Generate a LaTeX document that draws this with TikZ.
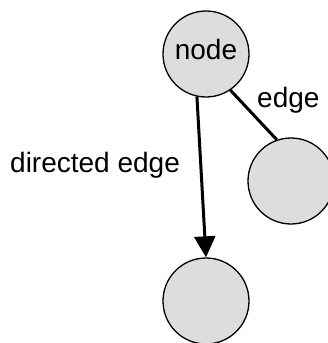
\documentclass[tikz,border=0pt]{standalone}
\usepackage{fontspec}
\setmainfont{Liberation Sans}
\usetikzlibrary{arrows.meta}
\definecolor{vfill}{RGB}{221,221,221}
\tikzset{
  vertex/.style={circle, draw=black, line width=1.3pt, fill=vfill,
    minimum size=86pt, inner sep=0pt},
  lbl/.style={font=\fontsize{28}{32}\selectfont, inner sep=0pt},
  plain edge/.style={line width=3pt},
  arc edge/.style={line width=3pt, -{Triangle[length=21pt,width=21pt]}}
}
\begin{document}
\begin{tikzpicture}[x=1pt,y=-1pt]
  \useasboundingbox (0,0) rectangle (327,343);
  % the three vertices
  \node[vertex, label={[lbl, name=nodetxt, yshift=5pt]center:node}] (top) at (206,54) {};
  \node[vertex] (right) at (291,181) {};
  \node[vertex] (bottom) at (206,301) {};
  % connectors
  \draw[plain edge] (top.-56) -- (right.109);
  \draw[arc edge] (top.258) -- (bottom.north);
  % edge labels
  \node[lbl, anchor=base west] (elabel) at (257,107) {edge};
  \node[lbl, anchor=base west] (dlabel) at (10,172) {directed edge};
\end{tikzpicture}
\end{document}
